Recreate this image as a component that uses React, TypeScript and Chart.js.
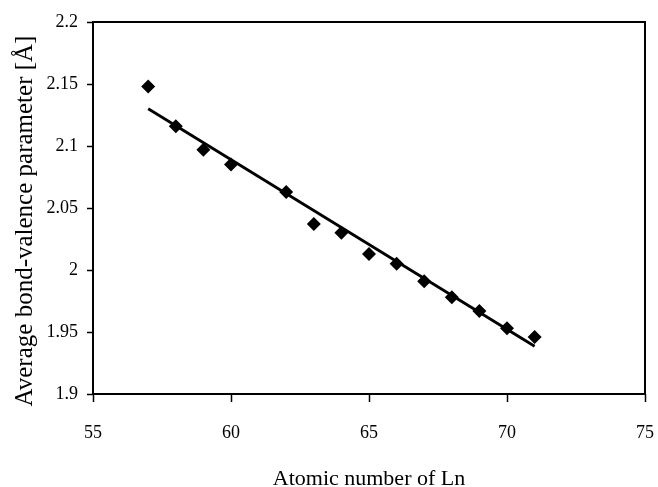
import React, { useEffect, useRef } from "react";
import { Chart, registerables } from "chart.js";

Chart.register(...registerables);

const atomicNumbers = [57, 58, 59, 60, 62, 63, 64, 65, 66, 67, 68, 69, 70, 71];
const bondValence = [2.148, 2.116, 2.097, 2.085, 2.063, 2.037, 2.030, 2.013, 2.005, 1.991, 1.978, 1.967, 1.953, 1.946];
const fitX = [57, 71];
const fitY = [2.130, 1.9385];
const xTicks = [55, 60, 65, 70, 75];
const yTicks = [1.9, 1.95, 2.0, 2.05, 2.1, 2.15, 2.2];
const xTitle = "Atomic number of Ln";
const yTitle = "Average bond-valence parameter [Å]";

const FONT = "'Liberation Serif', 'DejaVu Serif', serif";

const boxPlugin = {
  id: "box",
  afterDraw(chart: any) {
    const { ctx, chartArea } = chart;
    ctx.save();
    ctx.strokeStyle = "#000";
    ctx.lineWidth = 2;
    ctx.strokeRect(chartArea.left, chartArea.top, chartArea.right - chartArea.left, chartArea.bottom - chartArea.top);
    ctx.fillStyle = "#000";
    ctx.textAlign = "center";
    ctx.textBaseline = "alphabetic";
    ctx.font = `22px ${FONT}`;
    ctx.fillText(xTitle, (chartArea.left + chartArea.right) / 2, 485);
    ctx.translate(32, 221);
    ctx.rotate(-Math.PI / 2);
    ctx.font = `25px ${FONT}`;
    ctx.fillText(yTitle, 0, 0);
    ctx.restore();
  },
};

export default function App() {
  const ref = useRef<HTMLCanvasElement>(null);
  useEffect(() => {
    document.body.style.margin = "0";
    const chart = new Chart(ref.current!, {
      type: "scatter",
      data: {
        datasets: [
          {
            data: atomicNumbers.map((x, i) => ({ x, y: bondValence[i] })),
            pointStyle: "rectRot",
            pointRadius: 7,
            backgroundColor: "#000",
            borderColor: "#000",
            borderWidth: 0,
            showLine: false,
          },
          {
            data: fitX.map((x, i) => ({ x, y: fitY[i] })),
            showLine: true,
            pointRadius: 0,
            borderColor: "#000",
            borderWidth: 2.8,
          },
        ],
      },
      plugins: [boxPlugin],
      options: {
        animation: false,
        responsive: false,
        layout: { padding: { left: 0, top: 22, right: 13, bottom: 0 } },
        plugins: { legend: { display: false }, tooltip: { enabled: false } },
        scales: {
          x: {
            type: "linear",
            min: 55,
            max: 75,
            afterBuildTicks: (s: any) => {
              s.ticks = xTicks.map((v) => ({ value: v }));
            },
            afterFit: (s: any) => {
              s.height = 93;
              s.paddingLeft = 0;
              s.paddingRight = 0;
            },
            ticks: { color: "#000", font: { family: FONT, size: 18 }, padding: 20 },
            grid: { drawOnChartArea: false, tickLength: 8, color: "#000", tickWidth: 1.5 },
            border: { display: false },
          },
          y: {
            type: "linear",
            min: 1.9,
            max: 2.2,
            afterBuildTicks: (s: any) => {
              s.ticks = yTicks.map((v) => ({ value: v }));
            },
            afterFit: (s: any) => {
              s.width = 93;
              s.paddingTop = 0;
              s.paddingBottom = 0;
            },
            ticks: {
              color: "#000",
              font: { family: FONT, size: 18 },
              padding: 9,
              callback: (v: any) => String(parseFloat(Number(v).toFixed(2))),
            },
            grid: { drawOnChartArea: false, tickLength: 6, color: "#000", tickWidth: 1.5 },
            border: { display: false },
          },
        },
      },
    });
    return () => chart.destroy();
  }, []);
  return <canvas ref={ref} width={658} height={487} style={{ display: "block" }} />;
}
